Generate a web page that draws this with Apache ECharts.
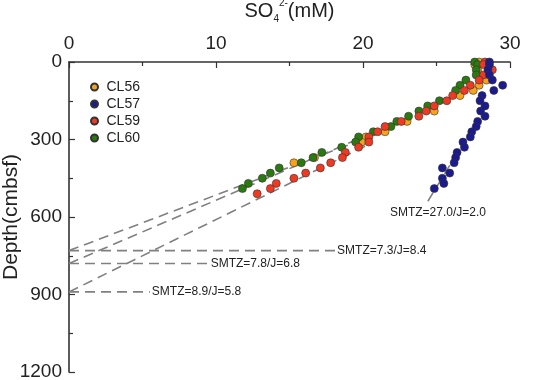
<!DOCTYPE html>
<html>
<head>
<meta charset="utf-8">
<script src="https://cdn.jsdelivr.net/npm/echarts@6/dist/echarts.min.js"></script>
<style>
  html, body { margin: 0; padding: 0; background: #fff; }
  #chart { width: 533px; height: 380px; }
</style>
</head>
<body>
<div id="chart"></div>
<script>
  // [SO4 (mM), depth (cmbsf)]
  const cl56 = [[27.9, 0], [27.6, 10], [27.8, 30], [28.4, 70], [27.9, 90], [27.5, 110], [26.6, 130],
    [24.85, 190], [23.0, 230], [21.5, 270], [20.2, 290], [19.9, 310], [16.7, 370], [15.3, 390]]
  const cl57 = [[28.6, 0], [28.6, 10], [28.5, 30], [28.6, 50], [28.8, 70], [29.5, 90], [28.9, 110],
    [28.1, 130], [27.96, 150], [28.3, 170], [28.0, 190], [28.3, 210], [27.8, 230], [27.7, 250],
    [27.4, 270], [27.3, 290], [26.8, 310], [26.9, 330], [26.4, 350], [26.3, 370], [26.2, 390],
    [25.4, 410], [25.9, 430], [25.4, 450], [25.5, 470], [24.85, 490]]
  const cl59 = [[28.3, 0], [28.2, 10], [28.8, 30], [28.2, 50], [27.9, 70], [27.3, 90], [26.9, 110],
    [26.1, 130], [25.7, 150], [24.85, 170], [24.3, 190], [23.8, 210], [22.6, 230], [21.5, 250],
    [21.0, 270], [20.4, 290], [20.4, 310], [19.7, 330], [18.8, 350], [18.6, 370], [17.8, 390],
    [17.1, 410], [16.1, 430], [15.3, 450], [14.1, 470], [13.7, 490], [12.8, 510]]
  const cl60 = [[27.6, 0], [27.8, 10], [27.7, 30], [27.7, 50], [27.0, 70], [26.6, 90], [26.3, 110],
    [25.2, 150], [24.4, 170], [23.8, 190], [23.1, 210], [22.3, 230], [21.9, 250], [20.7, 270],
    [19.7, 290], [19.5, 310], [18.55, 330], [17.2, 350], [16.6, 370], [15.8, 390], [14.3, 410],
    [13.7, 430], [13.15, 450], [12.2, 470], [11.8, 490]]

  // fitted lines (ends) and SMTZ markers
  const fitA = [[0, 730], [20.5, 289]]
  const fitB = [[0, 780], [20.5, 278]]
  const fitC = [[0, 890], [20.5, 316]]
  const fitD = [[25.9, 400], [24.35, 545]]
  const smtzDepths = [730, 780, 890]
  const smtzEnds = [18.1, 9.5, 5.5]
  const smtzLabels = ['SMTZ=7.3/J=8.4', 'SMTZ=7.8/J=6.8', 'SMTZ=8.9/J=5.8']
  const smtzLabelD = 'SMTZ=27.0/J=2.0'

  const xTicks = [0, 30, 10]   // min, max, interval
  const yTicks = [0, 1200, 300]

  const font = "'Liberation Sans', Arial, sans-serif"
  const dashStyle = { color: '#808080', width: 1.6, type: [10, 6] }
  const annoText = { fontFamily: font, fontSize: 12, color: '#222' }

  const dot = (name, data, color) => ({
    name,
    type: 'scatter',
    data,
    symbolSize: 8,
    z: 5,
    itemStyle: { color, borderColor: '#333', borderWidth: 0.6, opacity: 1 }
  })
  const fit = (data) => ({
    type: 'line',
    data,
    showSymbol: false,
    silent: true,
    z: 2,
    lineStyle: dashStyle
  })
  // dashed line with its text at the end
  const labelled = (data, text, label) => ({
    type: 'line',
    silent: true,
    z: 2,
    showSymbol: false,
    lineStyle: dashStyle,
    data,
    endLabel: Object.assign({ show: true, formatter: text, distance: 2 }, annoText, label)
  })

  const smtzSeries = smtzDepths.map((d, i) =>
    labelled([[0, d], [smtzEnds[i], d]], smtzLabels[i], {})
  )

  const chart = echarts.init(document.getElementById('chart'))
  chart.setOption({
    animation: false,
    textStyle: { fontFamily: font },
    grid: { left: 69, right: 23, top: 62, bottom: 8, outerBoundsMode: 'none' },
    legend: {
      orient: 'vertical',
      left: 85,
      top: 75,
      itemWidth: 14,
      itemHeight: 7,
      itemGap: 3,
      icon: 'circle',
      data: ['CL56', 'CL57', 'CL59', 'CL60'],
      textStyle: { fontFamily: font, fontSize: 14, color: '#222' }
    },
    xAxis: {
      type: 'value',
      position: 'top',
      min: xTicks[0],
      max: xTicks[1],
      interval: xTicks[2],
      name: '{a|SO}{b|4}{c|2-}{a|(mM)}',
      nameLocation: 'middle',
      nameGap: 38,
      nameMoveOverlap: false,
      nameTextStyle: {
        rich: {
          a: { fontFamily: font, fontSize: 20, color: '#222', lineHeight: 26 },
          b: { fontFamily: font, fontSize: 10, color: '#222', lineHeight: 13, verticalAlign: 'bottom' },
          c: { fontFamily: font, fontSize: 10, color: '#222', lineHeight: 24, verticalAlign: 'top' }
        }
      },
      axisLine: { lineStyle: { color: '#333', width: 1.6 } },
      axisTick: { inside: true, length: 6, lineStyle: { color: '#333', width: 1.2 } },
      minorTick: { show: true, splitNumber: 2, length: 4, lineStyle: { color: '#333', width: 1.2 } },
      axisLabel: { fontSize: 19, color: '#222', margin: 9, fontFamily: font },
      splitLine: { show: false }
    },
    yAxis: {
      type: 'value',
      inverse: true,
      min: yTicks[0],
      max: yTicks[1],
      interval: yTicks[2],
      name: 'Depth(cmbsf)',
      nameLocation: 'middle',
      nameGap: 47,
      nameMoveOverlap: false,
      nameTextStyle: { fontSize: 21, color: '#222', fontFamily: font },
      axisLine: { lineStyle: { color: '#333', width: 1.6 } },
      axisTick: { inside: true, length: 6, lineStyle: { color: '#333', width: 1.2 } },
      minorTick: { show: true, splitNumber: 2, length: 4, lineStyle: { color: '#333', width: 1.2 } },
      axisLabel: { fontSize: 19, color: '#222', margin: 7, fontFamily: font, formatter: (v) => String(v) },
      splitLine: { show: false }
    },
    series: [
      fit(fitA),
      fit(fitB),
      fit(fitC),
      labelled(fitD, smtzLabelD, { distance: 0, offset: [-37, 10] }),
      ...smtzSeries,
      dot('CL56', cl56, '#F7A21B'),
      dot('CL60', cl60, '#2B7A11'),
      dot('CL59', cl59, '#EE3A23'),
      dot('CL57', cl57, '#1B1A8F')
    ]
  })
</script>
</body>
</html>
